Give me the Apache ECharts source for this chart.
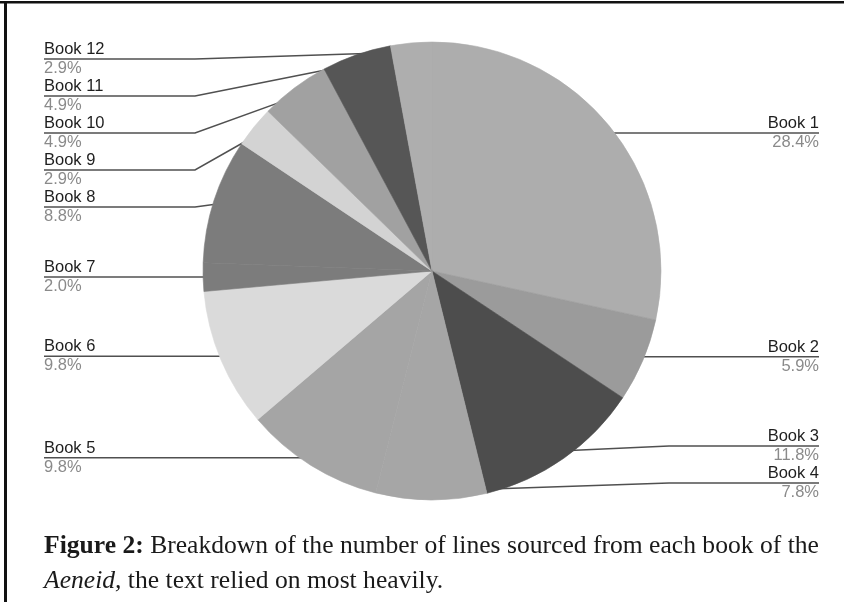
<!DOCTYPE html>
<html>
<head>
<meta charset="utf-8">
<script src="https://cdn.jsdelivr.net/npm/echarts@6/dist/echarts.min.js"></script>
<style>
  html, body { margin: 0; padding: 0; background: #ffffff; }
  #chart { width: 844px; height: 602px; }
</style>
</head>
<body>
<div id="chart"></div>
<script>
// Share of quoted lines per book of the Aeneid (percent)
const books = ['Book 1', 'Book 2', 'Book 3', 'Book 4', 'Book 5', 'Book 6',
               'Book 7', 'Book 8', 'Book 9', 'Book 10', 'Book 11', 'Book 12'];
const shares = [28.4, 5.9, 11.8, 7.8, 9.8, 9.8, 2.0, 8.8, 2.9, 4.9, 4.9, 2.9];
const shades = ['#adadad', '#9b9b9b', '#4d4d4d', '#a6a6a6', '#a5a5a5', '#dadada',
                '#7c7c7c', '#7c7c7c', '#d3d3d3', '#a1a1a1', '#565656', '#aeaeae'];

// Pie geometry and label column settings
const CX = 432, CY = 271, R = 229;
const ANCHOR_R = R - 9;      // label lines start just inside the rim
const ELBOW = R + 8;         // horizontal distance from centre to the line bend
const GAP = 37;              // minimum vertical spacing between labels
const LEFT_EDGE = 44, RIGHT_EDGE = 819;

// Two label columns (left/right); each label sits level with its slice
// midpoint, pushed apart so they never overlap and kept within the pie's height.
function computeLabelSlots() {
  const total = shares.reduce((a, b) => a + b, 0);
  let acc = 0;
  const items = shares.map((v, i) => {
    const a = (acc + v / 2) / total * Math.PI * 2;
    acc += v;
    const ax = CX + ANCHOR_R * Math.sin(a);
    const ay = CY - ANCHOR_R * Math.cos(a);
    return { i, ax, ay, right: ax >= CX - 1, y: ay };
  });
  const yMin = CY - R + 17, yMax = CY + R - 17;
  [true, false].forEach(side => {
    const col = items.filter(d => d.right === side).sort((p, q) => p.ay - q.ay);
    col.forEach((d, k) => {
      d.y = Math.min(Math.max(d.ay, yMin), yMax);
      if (k > 0) d.y = Math.max(d.y, col[k - 1].y + GAP);
    });
    if (col.length) col[col.length - 1].y = Math.min(col[col.length - 1].y, yMax);
    for (let k = col.length - 2; k >= 0; k--) {
      col[k].y = Math.min(col[k].y, col[k + 1].y - GAP);
    }
  });
  return items;
}
const slots = computeLabelSlots();

const chart = echarts.init(document.getElementById('chart'), null, { renderer: 'canvas' });

const serif = '"Liberation Serif", "Times New Roman", serif';
const sans = '"Liberation Sans", Arial, sans-serif';

const option = {
  animation: false,
  backgroundColor: '#ffffff',
  title: {
    left: 44,
    top: 529,
    padding: 0,
    text: '{b|Figure 2:} Breakdown of the number of lines sourced from each book of the\n{i|Aeneid,} the text relied on most heavily.',
    textStyle: {
      fontFamily: serif,
      fontSize: 25.6,
      fontWeight: 'normal',
      color: '#1a1a1a',
      lineHeight: 35,
      rich: {
        b: { fontFamily: serif, fontSize: 25.6, fontWeight: 'bold', color: '#1a1a1a', lineHeight: 35 },
        i: { fontFamily: serif, fontSize: 25.6, fontStyle: 'italic', color: '#1a1a1a', lineHeight: 35 }
      }
    }
  },
  graphic: [
    { type: 'rect', shape: { x: 0, y: 1, width: 844, height: 2.5 }, style: { fill: '#111' } },
    { type: 'rect', shape: { x: 4, y: 1, width: 3, height: 601 }, style: { fill: '#111' } }
  ],
  series: [{
    type: 'pie',
    left: 0,
    right: 0,
    top: 0,
    bottom: 0,
    center: [CX, CY],
    radius: R,
    startAngle: 90,
    clockwise: true,
    avoidLabelOverlap: false,
    data: books.map((name, i) => ({
      name: name,
      value: shares[i],
      itemStyle: { color: shades[i], borderColor: shades[i], borderWidth: 0.6 }
    })),
    label: {
      show: true,
      position: 'outer',
      formatter: p => '{n|' + p.name + '}\n{p|' + p.value.toFixed(1) + '%}',
      rich: {
        n: { fontFamily: sans, fontSize: 16.5, color: '#1e1e1e', lineHeight: 19 },
        p: { fontFamily: sans, fontSize: 16.5, color: '#8a8a8a', lineHeight: 19 }
      }
    },
    labelLine: {
      show: true,
      length: 4,
      length2: 10,
      lineStyle: { color: '#505050', width: 1.5 }
    },
    labelLayout: p => {
      const s = slots[p.dataIndex];
      const ex = s.right ? RIGHT_EDGE : LEFT_EDGE;
      const bx = s.right ? CX + ELBOW : CX - ELBOW;
      return {
        x: ex,
        y: s.y,
        align: s.right ? 'right' : 'left',
        verticalAlign: 'middle',
        labelLinePoints: [[s.ax, s.ay], [bx, s.y], [ex, s.y]]
      };
    },
    emphasis: { disabled: true }
  }]
};

chart.setOption(option);
</script>
</body>
</html>
